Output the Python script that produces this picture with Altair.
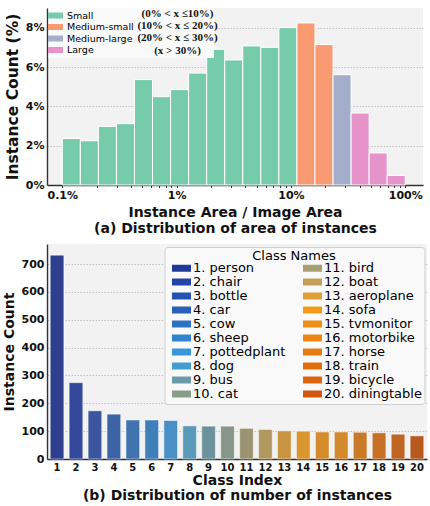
import altair as alt
import numpy as np
import pandas as pd

# ---------------- (a) Distribution of area of instances ----------------
area_pct = [2.36, 2.25, 2.98, 3.12, 5.36, 4.49, 4.85, 5.69, 6.90, 6.36,
            7.07, 7.00, 8.00, 8.24, 7.14, 5.61, 3.66, 1.63, 0.49]
area_group = ["Small", "Small", "Small", "Small", "Small", "Small", "Small",
              "Small", "Small", "Small", "Small", "Small", "Small",
              "Medium-small", "Medium-small", "Medium-large",
              "Large", "Large", "Large"]
group_names = ["Small", "Medium-small", "Medium-large", "Large"]
group_colors = ["#76cbab", "#f89b72", "#a4aecb", "#e593c8"]
group_ranges = ["(0%  < x ≤10%)", "(10% < x ≤ 20%)", "(20% < x ≤ 30%)", "(x > 30%)"]

# 19 log-spaced histogram bins between 0.1% and 100% of the image area
edges = np.logspace(-3, 0, len(area_pct) + 1)

# ---------------- (b) Distribution of number of instances ----------------
class_names = ["person", "chair", "bottle", "car", "cow", "sheep", "pottedplant",
               "dog", "bus", "cat", "bird", "boat", "aeroplane", "sofa",
               "tvmonitor", "motorbike", "horse", "train", "bicycle", "diningtable"]
class_counts = [732, 274, 173, 161, 140, 140, 138, 119, 118, 118,
                110, 106, 101, 100, 97, 97, 96, 94, 89, 83]
bar_colors = ["#2e3f8f", "#33489a", "#3a579e", "#3b63a6", "#3f74b0", "#4080ba",
              "#4a90c6", "#5a9ab8", "#6c939c", "#88968a", "#9a9570", "#b09860",
              "#c99540", "#d9962e", "#d38b2c", "#d38a2c", "#c97a28", "#c67026",
              "#c06424", "#b85a20"]
legend_colors = ["#203a9a", "#2244a6", "#2552b0", "#2960b8", "#2d72c2", "#2f84cc",
                 "#3a96da", "#459cce", "#6a9aa8", "#889e88", "#a89e74", "#c39e58",
                 "#e09e34", "#f09c18", "#ef8e14", "#ec8716", "#e67d12", "#e06e0e",
                 "#dc640e", "#d4560c"]

FONT = "DejaVu Sans"
PLOT_BG = "#f2f2f2"
GRID = dict(grid=True, gridColor="#b5b5b5", gridDash=[1.5, 1.5], gridWidth=0.8)

# ---------- top panel ----------
df_a = pd.DataFrame({
    "lo": edges[:-1],
    "hi": edges[1:],
    "pct": np.array(area_pct) / 100.0,
    "group": area_group,
})

x_ticks = [m * 10.0 ** k for k in range(-3, 0) for m in range(1, 10)] + [1.0]

bars_a = alt.Chart(df_a).mark_rect(stroke="white", strokeWidth=1).encode(
    x=alt.X("lo:Q",
            scale=alt.Scale(type="log", domain=[0.000735, 1.43], nice=False),
            axis=alt.Axis(values=x_ticks,
                          labelExpr="abs(log(datum.value)/LN10 - round(log(datum.value)/LN10)) < 1e-6 ? format(datum.value, '~%') : ''",
                          tickSize=2.5, labelPadding=2, grid=False,
                          title=["Instance Area / Image Area",
                                 "(a) Distribution of area of instances"],
                          titleFontSize=14, titleLineHeight=16, titlePadding=5)),
    x2="hi:Q",
    y=alt.Y("pct:Q",
            scale=alt.Scale(domain=[0, 0.09], nice=False),
            axis=alt.Axis(values=[0, 0.02, 0.04, 0.06, 0.08], format=".0%",
                          ticks=False, labelPadding=3,
                          title="Instance Count (%)", titleFontSize=15.5,
                          titlePadding=5, **GRID)),
    y2=alt.datum(0),
    color=alt.Color("group:N",
                    scale=alt.Scale(domain=group_names, range=group_colors),
                    legend=alt.Legend(title=None, orient="none", legendX=3, legendY=2,
                                      symbolType="M-1.364,-0.545H1.364V0.545H-1.364Z",
                                      symbolSize=121, symbolStrokeWidth=0,
                                      labelFont=FONT, labelFontSize=9.5,
                                      labelFontWeight="normal", labelOffset=6,
                                      rowPadding=1.5, padding=0)),
)

# light panel behind the legend and the range annotations
legend_bg_a = alt.Chart(pd.DataFrame({"k": [0]})).mark_rect(
    fill="#fafafa").encode(
    x=alt.value(1.5), x2=alt.value(167), y=alt.value(0), y2=alt.value(50))

df_rng = pd.DataFrame({"text": group_ranges, "row": list(range(len(group_ranges)))})
ranges_a = alt.Chart(df_rng).mark_text(
    font="Liberation Serif", fontWeight="bold", fontSize=11, align="center",
    baseline="middle", color="#111").transform_calculate(
    py="5.5 + datum.row * 12.4").encode(
    x=alt.value(130.5), y=alt.Y("py:Q", scale=None), text="text:N")

top = alt.layer(bars_a, legend_bg_a, ranges_a).properties(width=376, height=177)

# ---------- bottom panel ----------
labels = [f"{i + 1}. {n}" for i, n in enumerate(class_names)]
df_b = pd.DataFrame({
    "idx": list(range(1, len(class_names) + 1)),
    "count": class_counts,
    "label": labels,
    "bar_color": bar_colors,
})

x_b = alt.X("idx:O", scale=alt.Scale(paddingInner=0.28, paddingOuter=0.17),
            axis=alt.Axis(labelAngle=0, ticks=False, labelPadding=3, labelFontSize=10,
                          title=["Class Index", "(b) Distribution of number of instances"],
                          titleFontSize=14, titleLineHeight=15, titlePadding=1))
y_b = alt.Y("count:Q", scale=alt.Scale(domain=[0, 772], nice=False),
            axis=alt.Axis(values=list(range(0, 800, 100)), ticks=False, labelPadding=3,
                          title="Instance Count", titleFontSize=14, titlePadding=5,
                          **GRID))

bars_b = alt.Chart(df_b).mark_bar(stroke="white", strokeOpacity=0.6, strokeWidth=0.8).encode(
    x=x_b, y=y_b, color=alt.Color("bar_color:N", scale=None))

# invisible copy of the bars that carries the two-column class legend
legend_b = alt.Chart(df_b).mark_bar(opacity=0).encode(
    x=x_b, y=y_b,
    color=alt.Color("label:N",
                    scale=alt.Scale(domain=labels, range=legend_colors),
                    legend=alt.Legend(title="Class Names", orient="none",
                                      legendX=117.5, legendY=3, columns=2,
                                      symbolType="M-1.583,-0.583H1.583V0.583H-1.583Z",
                                      symbolSize=144, symbolOpacity=1,
                                      symbolStrokeWidth=0, symbolOffset=8,
                                      labelFont=FONT, labelFontSize=13,
                                      labelFontWeight="normal", labelOffset=5,
                                      labelLimit=300, columnPadding=12,
                                      rowPadding=0,
                                      titleFont=FONT, titleFontSize=13,
                                      titleFontWeight="normal", titleAnchor="middle",
                                      titlePadding=-1, padding=2.5,
                                      fillColor="#f9f9f9", strokeColor="#d0d0d0",
                                      cornerRadius=3)))

bottom = alt.layer(bars_b, legend_b).properties(width=380, height=215)

chart = alt.vconcat(top, bottom, spacing=8).resolve_scale(
    color="independent").resolve_legend(color="independent").properties(
    padding={"left": 2, "top": 7, "right": 2, "bottom": 2},
    background="white",
).configure_view(fill=PLOT_BG, stroke=None).configure_axis(
    labelFont=FONT, labelFontSize=11, labelFontWeight="bold", labelColor="#111",
    titleFont=FONT, titleFontWeight="bold", titleColor="#111",
    domainColor="#333", domainWidth=1.4, tickColor="#333",
).configure_axisX(grid=False)

chart.save("out.html", embed_options={"renderer": "svg", "actions": False})
